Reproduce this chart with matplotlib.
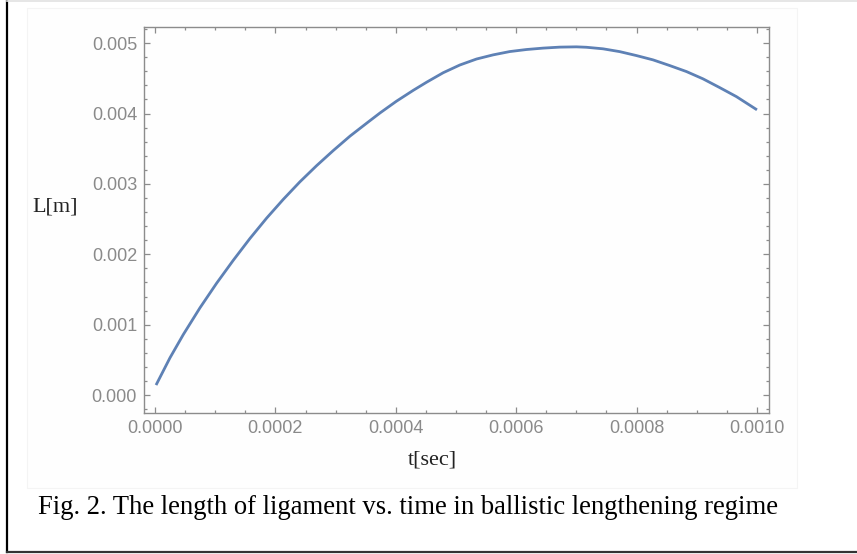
import numpy as np
import matplotlib

matplotlib.use("Agg")
import matplotlib.pyplot as plt
from matplotlib.lines import Line2D
from matplotlib.patches import Rectangle
from matplotlib.ticker import MultipleLocator, FormatStrFormatter

# ---- values ----------------------------------------------------------------
t_sec = [0.0000017, 0.0000249, 0.0000470, 0.0000747, 0.0001024, 0.0001300,
         0.0001577, 0.0001855, 0.0002130, 0.0002407, 0.0002685, 0.0002962,
         0.0003240, 0.0003549, 0.0003740, 0.0004010, 0.0004290, 0.0004511,
         0.0004787, 0.0005064, 0.0005341, 0.0005617, 0.0005894, 0.0006171,
         0.0006447, 0.0006724, 0.0007001, 0.0007168, 0.0007443, 0.0007720,
         0.0007998, 0.0008273, 0.0008551, 0.0008828, 0.0009104, 0.0009381,
         0.0009658, 0.0010000]
L_m = [0.000142, 0.000530, 0.000860, 0.001240, 0.001590, 0.001915,
       0.002225, 0.002515, 0.002780, 0.003030, 0.003260, 0.003475,
       0.003680, 0.003885, 0.004010, 0.004175, 0.004330, 0.004445,
       0.004580, 0.004690, 0.004775, 0.004834, 0.004881, 0.004910,
       0.004930, 0.004944, 0.004948, 0.004942, 0.004920, 0.004880,
       0.004824, 0.004763, 0.004682, 0.004597, 0.004493, 0.004369,
       0.004241, 0.004053]

x_ticks = [0.0, 0.0002, 0.0004, 0.0006, 0.0008, 0.0010]
y_ticks = [0.000, 0.001, 0.002, 0.003, 0.004, 0.005]

LINE = "#5e81b5"
FRAME = "#8c8c8c"
LABEL = "#8a8a8a"

W, H = 857, 554
fig = plt.figure(figsize=(W / 100, H / 100), dpi=100)
fig.patch.set_facecolor("white")

# faint plot-image backdrop and the outer caption frame
fig.add_artist(Rectangle((27 / W, 1 - 488 / H), (797 - 27) / W, (488 - 8) / H,
                         transform=fig.transFigure, facecolor="#fefefe",
                         edgecolor="#f4f4f4", lw=0.8, zorder=0))
fig.add_artist(Line2D([7.5 / W, 7.5 / W], [1 - 552 / H, 1], color="black",
                      lw=1.6, transform=fig.transFigure))
fig.add_artist(Line2D([7.5 / W, 1], [1 - 552 / H, 1 - 552 / H], color="#333333",
                      lw=1.6, transform=fig.transFigure))
fig.add_artist(Line2D([7.5 / W, 1], [1 - 0.6 / H, 1 - 0.6 / H], color="#e2e2e2",
                      lw=1.2, transform=fig.transFigure))

ax = fig.add_axes([144 / W, 1 - 413 / H, (769 - 144) / W, (413 - 27) / H])
ax.set_facecolor("none")
ax.plot(t_sec, L_m, color=LINE, lw=2.0, solid_capstyle="butt",
        solid_joinstyle="round")

ax.set_xlim(-0.0000183, 0.00102)
ax.set_ylim(-0.000255, 0.00523)
ax.set_xticks(x_ticks)
ax.set_yticks(y_ticks)
ax.xaxis.set_major_formatter(FormatStrFormatter("%.4f"))
ax.yaxis.set_major_formatter(FormatStrFormatter("%.3f"))
ax.xaxis.set_minor_locator(MultipleLocator(0.00005))
ax.yaxis.set_minor_locator(MultipleLocator(0.0002))

for side in ax.spines.values():
    side.set_color(FRAME)
    side.set_linewidth(1.0)
ax.tick_params(which="both", direction="in", top=True, right=True,
               color=FRAME, width=0.9, labelcolor=LABEL, labelsize=13)
ax.tick_params(which="major", length=4.5, pad=5)
ax.tick_params(which="minor", length=2.5)
for lab in ax.get_xticklabels() + ax.get_yticklabels():
    lab.set_fontfamily("Liberation Sans")

fig.text(55 / W, 1 - 207 / H, "L[m]", family="Liberation Serif", fontsize=16,
         ha="center", va="center", color="#222222")
fig.text(432 / W, 1 - 460 / H, "t[sec]", family="Liberation Serif", fontsize=16,
         ha="center", va="center", color="#222222")
fig.text(38 / W, 1 - 508 / H,
         "Fig. 2. The length of ligament vs. time in ballistic lengthening regime",
         family="Liberation Serif", fontsize=19.2, ha="left", va="center",
         color="black")

fig.savefig("out.png", dpi=100)
